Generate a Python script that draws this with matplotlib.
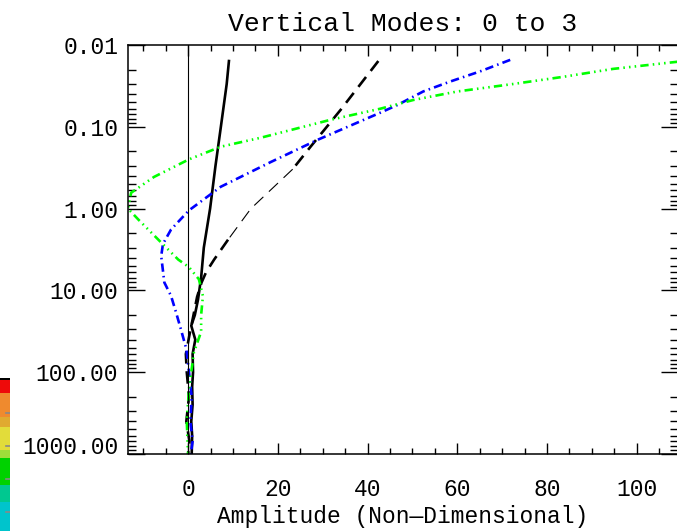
import numpy as np
import matplotlib
matplotlib.use("Agg")
import matplotlib.pyplot as plt
from matplotlib.ticker import FixedLocator, NullFormatter, MultipleLocator

plt.rcParams["font.family"] = ["Liberation Mono", "DejaVu Sans Mono"]
plt.rcParams["lines.scale_dashes"] = False

# pressure levels and amplitudes for each vertical mode
p0 = [0.0157, 0.03, 0.1, 0.3, 1, 3, 7, 13, 20, 27, 40, 60, 100, 150, 250, 400, 600, 1000]
a0 = [9.1, 8.6, 7.3, 6.1, 4.9, 3.5, 2.9, 2.2, 1.5, 0.7, 1.6, 1.0, 1.1, 0.9, 1.0, 0.7, 0.9, 0.8]

p1 = [0.0157, 0.062, 0.175, 0.33, 1.0, 2.4, 4.2, 6.0, 8, 12, 20, 35, 60, 100, 200, 400, 700, 1000]
a1 = [42.4, 34, 27.3, 23.3, 14, 8.9, 5.8, 4.0, 3.0, 2.0, 1.2, 0.3, -0.5, -0.3, 0.2, -0.4, 0.3, 0.0]

p2 = [0.0152, 0.021, 0.028, 0.037, 0.054, 0.067, 0.144, 0.27, 0.54, 1.05, 1.8, 2.7, 3.8,
      8.0, 11.7, 18.5, 30, 52, 100, 200, 400, 700, 1000]
a2 = [71.8, 65.1, 58.4, 52.4, 46.7, 42.9, 28.9, 18.4, 7.3, 0.2, -3.8, -5.6, -6.0,
      -5.3, -3.8, -2.7, -1.6, -0.4, 0.2, 0.8, 0.5, 1.0, 0.6]

p3 = [0.016, 0.0196, 0.0245, 0.03, 0.037, 0.047, 0.06, 0.082, 0.136, 0.175, 0.25, 0.41, 0.64,
      1.0, 1.36, 2.6, 4.2, 5.2, 7.3, 11.7, 20, 32, 57, 160, 400, 1000]
a3 = [109.2, 94.7, 83.6, 72.4, 60, 50.2, 42.9, 31.8, 16.2, 7.3, 0.2, -7.6, -12.7,
      -13.4, -11.1, -6, -2.2, 0.2, 2.4, 3.3, 2.9, 2.9, 1.3, 0.2, -0.3, 0.0]

ytick_vals = [0.01, 0.1, 1, 10, 100, 1000]
xtick_vals = [0, 20, 40, 60, 80, 100]

# colour bar strip at the far left (band edges in image rows, top -> bottom)
cb_edges = [378, 380, 393, 417, 427, 450, 458, 485, 502, 531]
cb_colors = ["#000000", "#ee0a0a", "#ef8a2e", "#e0aa30", "#e2dc3a",
             "#9ede3a", "#00d200", "#00c890", "#00c4cc"]
cb_marks = [413, 446, 479, 512]

W, H = 677, 531
fig = plt.figure(figsize=(W / 100, H / 100), dpi=100)
fs = 16.5

dash = (0, (9, 5.5))
dashdot = (0, (6, 3, 1.1, 3))
dash3dot = (0, (6, 3, 1.1, 3, 1.1, 3, 1.1, 3))

ax = fig.add_axes([128 / W, 1 - 454 / H, 550 / W, 409 / H])
ax.plot(a0, p0, color="black", lw=1.9)
# mode 1 is drawn thinner through its middle part, as in the original
ax.plot(a1[:4], p1[:4], color="black", lw=1.9, linestyle=dash)
ax.plot(a1[3:6], p1[3:6], color="black", lw=0.8, linestyle=dash)
ax.plot(a1[5:], p1[5:], color="black", lw=1.9, linestyle=dash)
ax.plot(a2, p2, color="#0000ff", lw=1.9, linestyle=dashdot)
ax.plot(a3, p3, color="#00ff00", lw=1.9, linestyle=dash3dot)
ax.axvline(0, color="black", lw=0.8)

ax.set_yscale("log")
ax.set_ylim(1000, 0.01)
ax.set_xlim(-13.4, 109.2)

ax.yaxis.set_major_locator(FixedLocator(ytick_vals))
ax.set_yticklabels(["%.2f" % v for v in ytick_vals])
minors = [m * 10.0 ** e for e in range(-2, 3) for m in range(2, 10)]
ax.yaxis.set_minor_locator(FixedLocator(minors))
ax.yaxis.set_minor_formatter(NullFormatter())
ax.xaxis.set_major_locator(FixedLocator(xtick_vals))
ax.xaxis.set_minor_locator(MultipleLocator(5))

ax.tick_params(axis="both", which="both", direction="in", top=True, right=True,
               labelsize=fs, width=1.0, colors="black")
ax.tick_params(axis="y", which="major", length=12, pad=7)
ax.tick_params(axis="y", which="minor", length=6)
ax.tick_params(axis="x", which="major", length=8, pad=17)
ax.tick_params(axis="x", which="minor", length=4.5)
ax.get_yticklabels()[-1].set_va("baseline")
for s in ax.spines.values():
    s.set_linewidth(1.1)

ax.set_xlabel("Amplitude (Non\u2014Dimensional)", fontsize=fs, labelpad=3)
ax.set_title("Vertical Modes: 0 to 3", fontsize=19, pad=10)

# colour bar fragment
cax = fig.add_axes([0, 0, 10 / W, (H - cb_edges[0]) / H])
for top, bot, c in zip(cb_edges[:-1], cb_edges[1:], cb_colors):
    cax.axhspan(bot, top, color=c, lw=0)
for m in cb_marks:
    cax.plot([0.6, 0.95], [m, m], color="#888888", lw=1.2)
cax.set_xlim(0, 1)
cax.set_ylim(H, cb_edges[0])
cax.axis("off")

fig.savefig("out.png", dpi=100)
